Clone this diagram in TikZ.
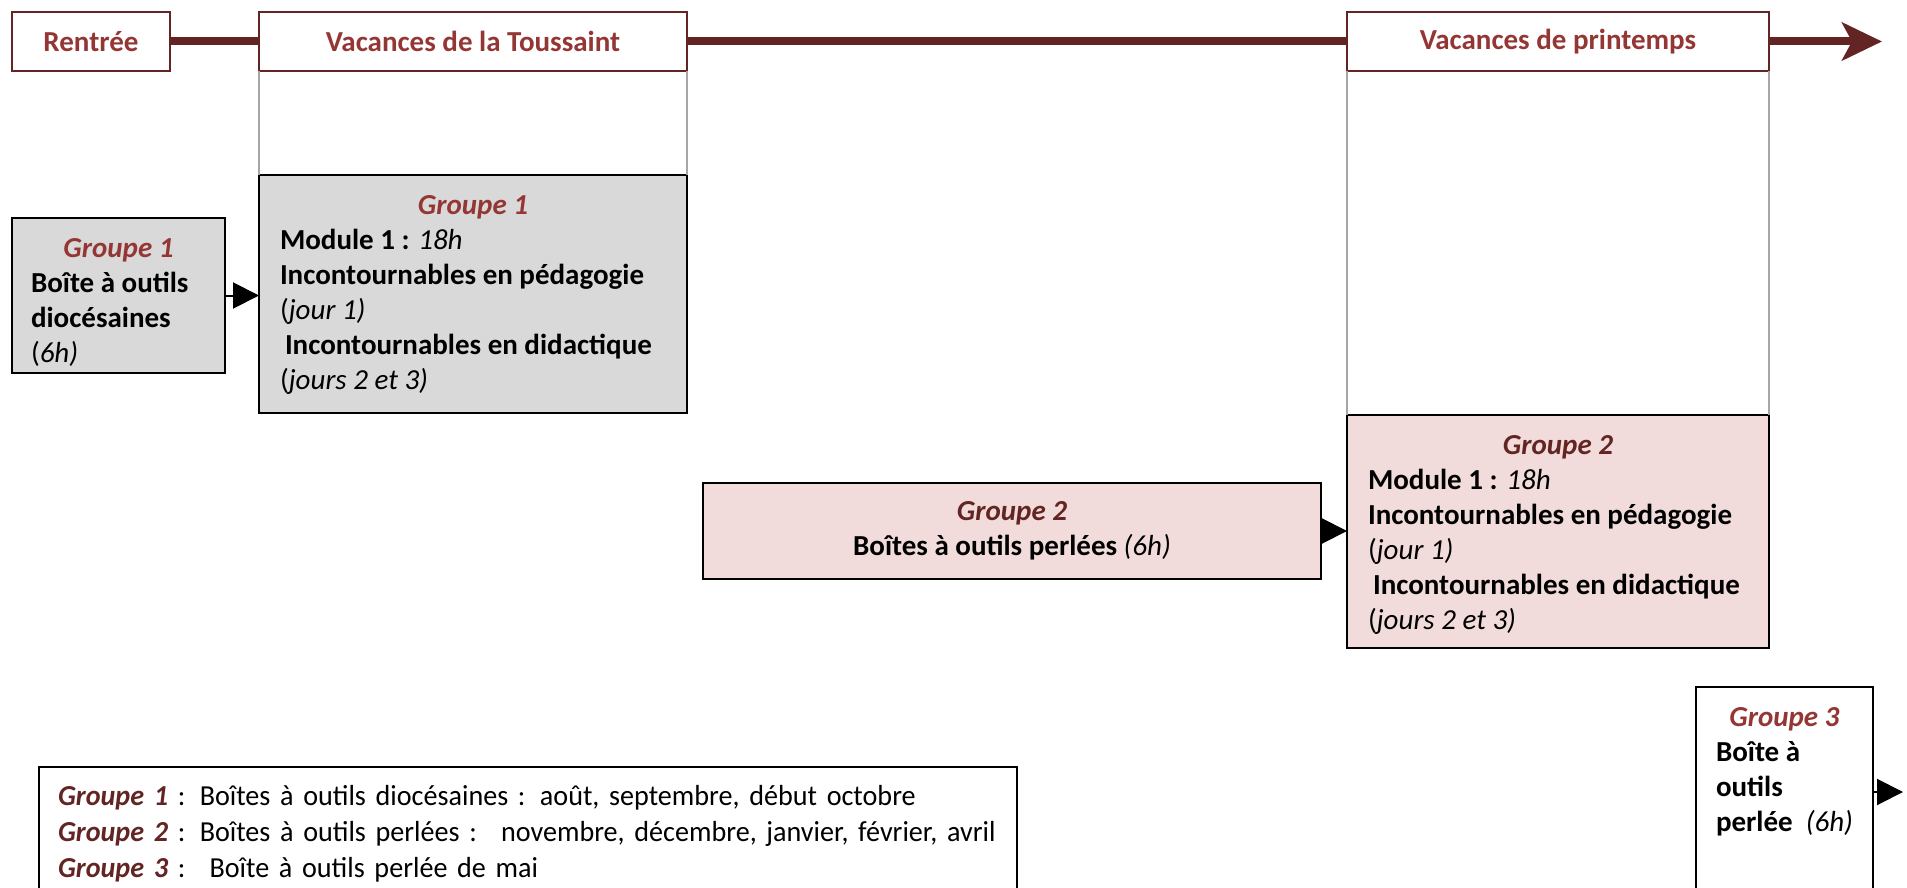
\documentclass[tikz,border=0pt]{standalone}
\usepackage{fontspec}
\setmainfont{Carlito}
\newfontfamily\legendefont[FakeStretch=0.97]{Carlito}
\usetikzlibrary{arrows.meta}

\definecolor{brun}{RGB}{99,37,35}
\definecolor{rouge}{RGB}{148,54,52}
\definecolor{grisfond}{RGB}{217,217,217}
\definecolor{rosefond}{RGB}{242,220,219}
\definecolor{grisligne}{RGB}{166,166,166}

\newcommand{\grpclair}[1]{\textcolor{rouge}{\textbf{\textit{#1}}}}
\newcommand{\grpfonce}[1]{\textcolor{brun}{\textbf{\textit{#1}}}}
\newcommand{\titre}[1]{\makebox[\linewidth][c]{#1}}
\newcommand{\contenu}[3]{\parbox[t][#1][t]{#2}{\raggedright #3}}

\begin{document}
\begin{tikzpicture}[x=1pt,y=-1pt,
	every node/.style={font=\fontsize{29}{35}\selectfont, inner sep=0pt, outer sep=0pt},
	periode/.style={draw=brun, line width=2pt, anchor=north west, minimum height=59pt, text=rouge, font=\fontsize{29}{35}\selectfont\bfseries},
	boite/.style={draw=black, line width=2pt, anchor=north west, inner xsep=20pt, inner ysep=20pt},
	frise/.style={draw=brun, line width=8pt},
	fleche/.style={-{Triangle[length=26pt,width=26pt]}, line width=2pt},
	lien/.style={draw=grisligne, line width=2pt}]
	\clip (0,0) rectangle (1907,888);
	
	% frise du haut
	\node [periode,minimum width=158pt] (rentree) at (12,12) {Rentrée};
	\node [periode,minimum width=428pt] (toussaint) at (259,12) {Vacances de la Toussaint};
	\node [periode,minimum width=422pt] (printemps) at (1347,12) {Vacances de printemps};
	\coordinate (fin) at (1882,41.5);
	
	\draw [frise] (rentree.east) -- (toussaint.west);
	\draw [frise] (toussaint.east) -- (printemps.west);
	\draw [frise,-{Stealth[length=40pt,width=38pt,inset=10pt]}] (printemps.east) -- (fin);
	
	% groupe 1
	\node [boite,fill=grisfond,inner xsep=19pt] (g1outils) at (12,218) {\contenu{115pt}{175pt}{
		\titre{\grpclair{Groupe 1}}\\
		\textbf{Boîte à outils}\\
		\textbf{diocésaines}\\
		(\textit{6h)}}};
	\node [boite,fill=grisfond,inner xsep=21pt] (g1module) at (259,175) {\contenu{198pt}{386pt}{
		\titre{\grpclair{Groupe 1}}\\
		\textbf{Module 1 :} \textit{18h}\\
		\textbf{Incontournables en pédagogie}\\
		(\textit{jour 1)}\\
		\hspace*{5pt}\textbf{Incontournables en didactique}\\
		(\textit{jours 2 et 3)}}};
	
	% groupe 2
	\node [boite,fill=rosefond,minimum width=618pt,minimum height=96pt,inner ysep=0pt,align=center] (g2outils) at (703,483) {
		\grpfonce{Groupe 2}\\
		\textbf{Boîtes à outils perlées} \textit{(6h)}};
	\node [boite,fill=rosefond,inner xsep=21pt] (g2module) at (1347,415) {\contenu{193pt}{380pt}{
		\titre{\grpfonce{Groupe 2}}\\
		\textbf{Module 1 :} \textit{18h}\\
		\textbf{Incontournables en pédagogie}\\
		(\textit{jour 1)}\\
		\hspace*{5pt}\textbf{Incontournables en didactique}\\
		(\textit{jours 2 et 3)}}};
	
	% groupe 3
	\node [boite] (g3outils) at (1696,687) {\contenu{190pt}{137pt}{
		\titre{\grpclair{Groupe 3}}\\
		\textbf{Boîte à}\\
		\textbf{outils}\\
		\textbf{perlée}~~\textit{(6h)}}};
	\coordinate (g3fin) at (1903,792);
	
	% legende
	\node [boite,text width=940pt,align=left,inner xsep=19pt,inner ysep=18pt,font=\fontsize{29}{36}\legendefont] (legende) at (39,767) {
		\grpfonce{Groupe 1} : Boîtes à outils diocésaines : août, septembre, début octobre\\
		\grpfonce{Groupe 2} : Boîtes à outils perlées :~ novembre, décembre, janvier, février, avril\\
		\grpfonce{Groupe 3} :~ Boîte à outils perlée de mai};
	
	% liens
	\draw [lien] (toussaint.south west) -- (g1module.north west);
	\draw [lien] (toussaint.south east) -- (g1module.north east);
	\draw [lien] (printemps.south west) -- (g2module.north west);
	\draw [lien] (printemps.south east) -- (g2module.north east);
	
	\draw [fleche] (g1outils.east) -- (g1outils.east -| g1module.west);
	\draw [fleche] (g2outils.east) -- (g2outils.east -| g2module.west);
	\draw [fleche] (g3fin -| g3outils.east) -- (g3fin);
\end{tikzpicture}
\end{document}
